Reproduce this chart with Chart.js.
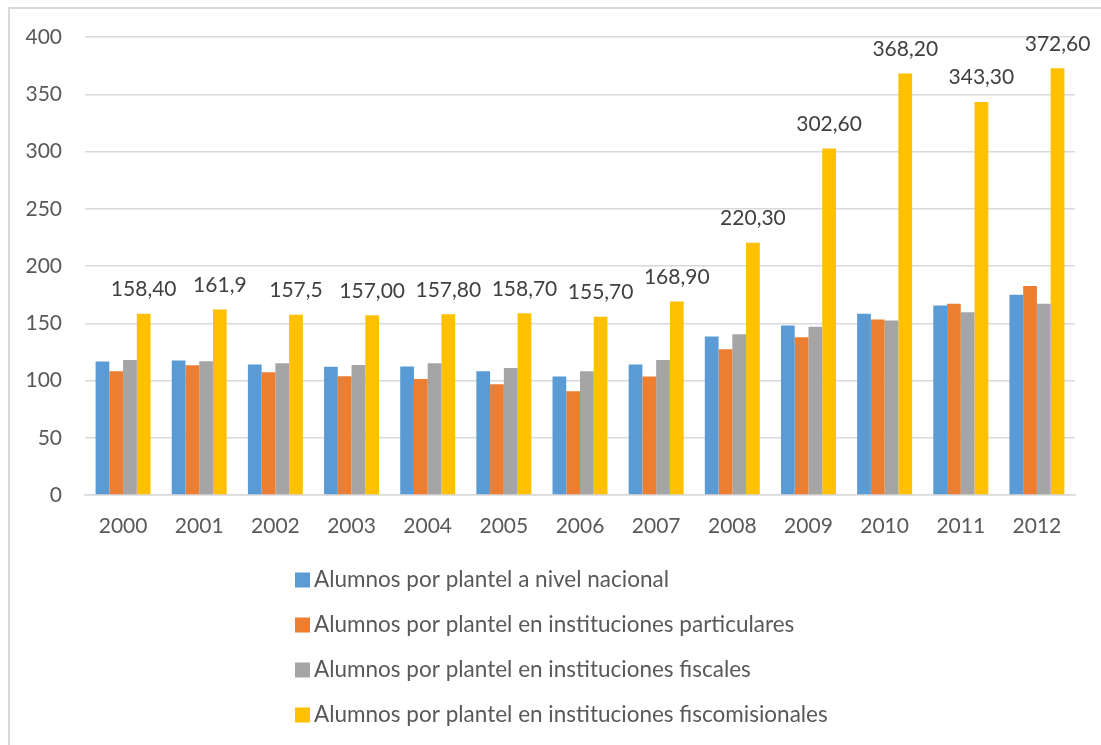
<!DOCTYPE html>
<html>
<head>
<meta charset="utf-8">
<script src="https://cdn.jsdelivr.net/npm/chart.js@4/dist/chart.umd.min.js"></script>
<style>
  html, body { margin: 0; padding: 0; background: #ffffff; overflow: hidden; }
  #wrap { position: relative; width: 1101px; height: 745px; }
  #frame { position: absolute; left: 8px; top: 7px; width: 1200px; height: 800px;
           border-left: 2px solid #d9d9d9; border-top: 2px solid #d9d9d9; box-sizing: border-box; }
  canvas { position: absolute; left: 0; top: 0; }
</style>
</head>
<body>
<div id="wrap">
  <div id="frame"></div>
  <canvas id="c" width="1101" height="745"></canvas>
</div>
<script>
const years = ['2000','2001','2002','2003','2004','2005','2006','2007','2008','2009','2010','2011','2012'];
const seriesNames = [
  'Alumnos por plantel a nivel nacional',
  'Alumnos por plantel en instituciones particulares',
  'Alumnos por plantel en instituciones fiscales',
  'Alumnos por plantel en instituciones fiscomisionales'
];
const nacional = [116.6, 117.5, 114.0, 111.9, 112.2, 108.1, 103.5, 114.0, 138.5, 148.1, 158.2, 165.6, 175.0];
const particulares = [108.1, 113.4, 107.3, 103.8, 101.4, 96.8, 90.6, 103.5, 127.4, 137.8, 153.3, 167.0, 182.5];
const fiscales = [118.0, 116.9, 115.1, 113.6, 115.1, 111.0, 108.1, 118.0, 140.5, 146.9, 152.4, 159.7, 167.0];
const fiscomisionales = [158.40, 161.9, 157.5, 157.00, 157.80, 158.70, 155.70, 168.90, 220.30, 302.60, 368.20, 343.30, 372.60];
const fiscomLabels = ['158,40','161,9','157,5','157,00','157,80','158,70','155,70','168,90','220,30','302,60','368,20','343,30','372,60'];
const yTicks = [0, 50, 100, 150, 200, 250, 300, 350, 400];

const colors = ['#5B9BD5', '#ED7D31', '#A5A5A5', '#FFC000'];
const FONT = 'Lato, "Open Sans", sans-serif';

const labelPlugin = {
  id: 'barLabels',
  afterDatasetsDraw(chart) {
    const ctx = chart.ctx;
    const meta = chart.getDatasetMeta(3);
    ctx.save();
    ctx.font = '21px ' + FONT;
    ctx.fillStyle = '#404040';
    ctx.textAlign = 'center';
    ctx.textBaseline = 'middle';
    meta.data.forEach((bar, i) => {
      ctx.fillText(fiscomLabels[i], bar.x, bar.y - 24.5);
    });
    ctx.restore();
  }
};

const legendPlugin = {
  id: 'stackLegend',
  afterDraw(chart) {
    const ctx = chart.ctx;
    ctx.save();
    ctx.font = '22.5px ' + FONT;
    ctx.textBaseline = 'middle';
    ctx.textAlign = 'left';
    chart.data.datasets.forEach((ds, i) => {
      const cy = 580 + i * 45;
      ctx.fillStyle = ds.backgroundColor;
      ctx.fillRect(295, cy - 7.5, 15, 15);
      ctx.fillStyle = '#595959';
      ctx.fillText(ds.label, 314, cy);
    });
    ctx.restore();
  }
};

const seriesData = [nacional, particulares, fiscales, fiscomisionales];

new Chart(document.getElementById('c'), {
  type: 'bar',
  data: {
    labels: years,
    datasets: seriesData.map((d, i) => ({
      label: seriesNames[i],
      data: d,
      backgroundColor: colors[i],
      borderWidth: 0,
      categoryPercentage: 0.722,
      barPercentage: 1.0
    }))
  },
  options: {
    responsive: false,
    animation: false,
    devicePixelRatio: 1,
    layout: { padding: { left: 0, top: 37, right: 26, bottom: 205 } },
    plugins: {
      legend: { display: false },
      tooltip: { enabled: false }
    },
    scales: {
      x: {
        grid: { display: false, drawTicks: false },
        border: { display: true, color: '#d9d9d9', width: 1.5 },
        ticks: { color: '#595959', font: { family: FONT, size: 21 }, padding: 19 },
        afterFit(scale) { scale.height = 45; }
      },
      y: {
        min: 0, max: 400,
        afterBuildTicks(scale) { scale.ticks = yTicks.map(v => ({ value: v })); },
        grid: { color: '#d9d9d9', lineWidth: 1.5, drawTicks: false },
        border: { display: false },
        ticks: { color: '#595959', font: { family: FONT, size: 21 }, padding: 23 },
        afterFit(scale) { scale.width = 85; }
      }
    }
  },
  plugins: [labelPlugin, legendPlugin]
});
</script>
</body>
</html>
